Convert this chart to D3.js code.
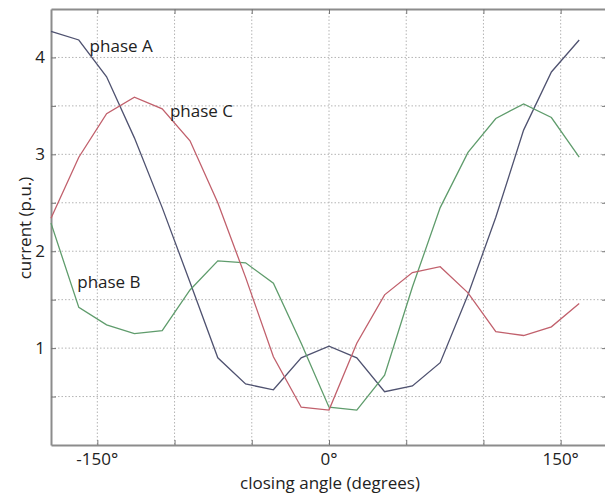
<!DOCTYPE html>
<html>
<head>
<meta charset="utf-8">
<script src="https://cdn.jsdelivr.net/npm/d3@7"></script>
<style>
  body { margin: 0; background: #fff; }
  text { font-family: "Open Sans", sans-serif; fill: #222; }
</style>
</head>
<body>
<svg></svg>
<script>
// chart size
var width = 605;
var height = 493;

// closing angle every 18 degrees
var angles = [-180, -162, -144, -126, -108, -90, -72, -54, -36, -18, 0, 18, 36, 54, 72, 90, 108, 126, 144, 162];

var phaseA = [4.27, 4.18, 3.80, 3.17, 2.45, 1.68, 0.90, 0.63, 0.57, 0.90, 1.02, 0.90, 0.55, 0.61, 0.85, 1.55, 2.35, 3.25, 3.85, 4.18];
var phaseB = [2.29, 1.42, 1.24, 1.15, 1.18, 1.60, 1.90, 1.88, 1.67, 1.05, 0.39, 0.36, 0.72, 1.63, 2.45, 3.02, 3.37, 3.52, 3.38, 2.97];
var phaseC = [2.34, 2.97, 3.42, 3.59, 3.47, 3.14, 2.50, 1.73, 0.91, 0.39, 0.36, 1.05, 1.55, 1.78, 1.84, 1.57, 1.17, 1.13, 1.22, 1.46];

var xTicks = [-150, 0, 150];
var xTickLabels = ["-150°", "0°", "150°"];
var yTicks = [1, 2, 3, 4];

var series = [
    { name: "phase A", values: phaseA, color: "#4f5270", label: [-155, 52] },
    { name: "phase B", values: phaseB, color: "#5f9c6c", label: [-163, 288] },
    { name: "phase C", values: phaseC, color: "#c1606c", label: [-103, 117] }
];

var x = d3.scaleLinear()
    .domain([-180, 180])
    .range([51, 607]);

var y = d3.scaleLinear()
    .domain([0, 4.5])
    .range([445, 9]);

var svg = d3.select("svg")
    .attr("width", width)
    .attr("height", height);

// dotted grid
svg.append("g")
    .selectAll("line")
    .data(d3.range(-150, 151, 50))
    .enter().append("line")
    .attr("x1", function(d) { return x(d); })
    .attr("x2", function(d) { return x(d); })
    .attr("y1", y(4.5))
    .attr("y2", y(0))
    .style("stroke", "#b4b4b4")
    .style("stroke-width", 1)
    .style("stroke-dasharray", "1.5,2");

svg.append("g")
    .selectAll("line")
    .data(d3.range(0.5, 4.01, 0.5))
    .enter().append("line")
    .attr("x1", x(-180))
    .attr("x2", x(180))
    .attr("y1", function(d) { return y(d); })
    .attr("y2", function(d) { return y(d); })
    .style("stroke", "#b4b4b4")
    .style("stroke-width", 1)
    .style("stroke-dasharray", "1.5,2");

// axes: ticks point inward, labels only on a few
var gx = svg.append("g")
    .attr("transform", "translate(0," + y(0) + ")")
    .call(d3.axisBottom(x)
        .tickValues(d3.range(-150, 151, 50))
        .tickSizeInner(-5)
        .tickSizeOuter(0)
        .tickFormat(""));

var gxTop = svg.append("g")
    .attr("transform", "translate(0," + y(4.5) + ")")
    .call(d3.axisTop(x)
        .tickValues(d3.range(-150, 151, 50))
        .tickSizeInner(-5)
        .tickSizeOuter(0)
        .tickFormat(""));

var gy = svg.append("g")
    .attr("transform", "translate(" + x(-180) + ",0)")
    .call(d3.axisLeft(y)
        .tickValues(d3.range(0.5, 4.01, 0.5))
        .tickSizeInner(-5)
        .tickSizeOuter(0)
        .tickFormat(""));

var gyRight = svg.append("g")
    .attr("transform", "translate(" + x(180) + ",0)")
    .call(d3.axisRight(y)
        .tickValues(d3.range(0.5, 4.01, 0.5))
        .tickSizeInner(-5)
        .tickSizeOuter(0)
        .tickFormat(""));

[gx, gxTop, gy, gyRight].forEach(function(g) {
    g.select(".domain").style("stroke", "#8c8c8c").style("stroke-width", 2);
    g.selectAll(".tick line").style("stroke", "#777");
});

// tick labels
svg.append("g")
    .selectAll("text")
    .data(xTicks)
    .enter().append("text")
    .attr("x", function(d) { return x(d); })
    .attr("y", 465)
    .attr("text-anchor", "middle")
    .style("font-size", "17px")
    .text(function(d, i) { return xTickLabels[i]; });

svg.append("g")
    .selectAll("text")
    .data(yTicks)
    .enter().append("text")
    .attr("x", 45)
    .attr("y", function(d) { return y(d) + 6; })
    .attr("text-anchor", "end")
    .style("font-size", "17px")
    .text(function(d) { return d; });

// axis titles
svg.append("text")
    .attr("x", 330)
    .attr("y", 489)
    .attr("text-anchor", "middle")
    .style("font-size", "17px")
    .text("closing angle (degrees)");

svg.append("text")
    .attr("transform", "translate(31," + 228 + ") rotate(-90)")
    .attr("text-anchor", "middle")
    .style("font-size", "17px")
    .text("current (p.u.)");

// the three phase curves
var line = d3.line()
    .x(function(d) { return x(d[0]); })
    .y(function(d) { return y(d[1]); });

series.forEach(function(s) {
    svg.append("path")
        .datum(angles.map(function(a, i) { return [a, s.values[i]]; }))
        .attr("d", line)
        .style("fill", "none")
        .style("stroke", s.color)
        .style("stroke-width", 1.3);

    svg.append("text")
        .attr("x", x(s.label[0]))
        .attr("y", s.label[1])
        .style("font-size", "17px")
        .text(s.name);
});
</script>
</body>
</html>
